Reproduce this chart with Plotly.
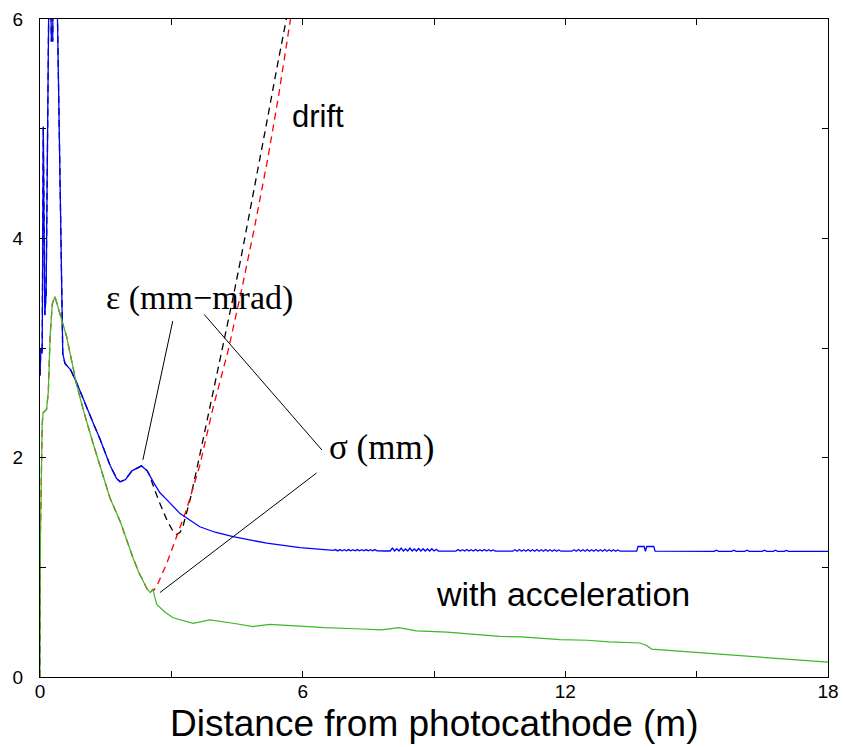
import plotly.graph_objects as go

# ---------------- data ----------------
# emittance with acceleration (blue)
blue_d = [0.0, 0.02, 0.05, 0.075, 0.11, 0.14, 0.22, 0.26, 0.29, 0.31, 0.36, 0.52, 0.57,
          0.7, 0.84, 1.0, 1.2, 1.37, 1.6, 1.75, 1.83, 1.95, 2.1, 2.32, 2.45, 2.6, 2.74, 2.9,
          3.2, 3.65, 4.0, 4.41, 5.18, 5.94, 6.3, 6.7]
blue_v = [2.75, 3.0, 2.95, 5.02, 3.3, 3.5, 7.0, 5.8, 5.8, 7.0, 7.0, 2.95, 2.86,
          2.8, 2.68, 2.52, 2.33, 2.17, 1.93, 1.81, 1.78, 1.8, 1.88, 1.925, 1.88, 1.77, 1.68,
          1.615, 1.49, 1.37, 1.32, 1.28, 1.22, 1.18, 1.165, 1.155]
# ripples and bumps of the blue curve further downstream
ripple_d = [6.75, 6.8, 6.85, 6.9, 6.95, 7.0, 7.05, 7.1, 7.15, 7.2, 7.25, 7.3, 7.35, 7.4,
            7.45, 7.5, 7.55, 7.6, 7.65, 7.7, 7.9,
            8.0, 8.05, 8.1, 8.15, 8.2, 8.25, 8.3, 8.35, 8.4, 8.45, 8.5, 8.55, 8.6, 8.65,
            8.7, 8.75, 8.8, 8.85, 8.9, 8.95, 9.0, 9.05, 9.1, 9.4,
            9.5, 9.55, 9.6, 9.65, 9.7, 9.75, 9.8, 9.85, 9.9, 9.95, 10.0, 10.05, 10.1,
            10.15, 10.2, 10.25, 10.3, 10.35, 10.4, 10.7,
            10.8, 10.85, 10.9, 10.95, 11.0, 11.05, 11.1, 11.15, 11.2, 11.25, 11.3, 11.35,
            11.4, 11.45, 11.5, 11.55, 11.6, 11.65, 11.7, 11.75, 11.8, 11.85, 11.9, 12.05,
            12.15, 12.2, 12.25, 12.3, 12.35, 12.4, 12.45, 12.5, 12.55, 12.6, 12.65, 12.7,
            12.75, 12.8, 12.85, 12.9, 12.95, 13.0, 13.05, 13.1, 13.15, 13.2, 13.25,
            13.63, 13.66, 13.8, 13.83, 13.86, 14.02, 14.05,
            15.4, 15.45, 15.5, 15.8, 15.85, 15.9, 16.1, 16.15, 16.2, 16.5, 16.55, 16.6,
            16.75, 16.8, 16.85, 17.0, 17.05, 17.1, 18.0]
ripple_v = [1.162, 1.15, 1.162, 1.15, 1.16, 1.15, 1.162, 1.15, 1.16, 1.15, 1.162, 1.15,
            1.16, 1.15, 1.162, 1.15, 1.16, 1.15, 1.162, 1.15, 1.149,
            1.149, 1.175, 1.149, 1.17, 1.149, 1.175, 1.149, 1.168, 1.149, 1.175, 1.149,
            1.168, 1.149, 1.172, 1.149, 1.17, 1.149, 1.168, 1.149, 1.17, 1.149, 1.165,
            1.149, 1.148,
            1.148, 1.162, 1.148, 1.16, 1.148, 1.162, 1.148, 1.16, 1.148, 1.162, 1.148,
            1.16, 1.148, 1.162, 1.148, 1.16, 1.148, 1.158, 1.148, 1.147,
            1.147, 1.16, 1.147, 1.162, 1.147, 1.16, 1.147, 1.162, 1.147, 1.16, 1.147,
            1.162, 1.147, 1.16, 1.147, 1.162, 1.147, 1.16, 1.147, 1.16, 1.147, 1.158,
            1.147, 1.147,
            1.147, 1.16, 1.147, 1.162, 1.147, 1.16, 1.147, 1.162, 1.147, 1.16, 1.147,
            1.162, 1.147, 1.16, 1.147, 1.162, 1.147, 1.16, 1.147, 1.16, 1.147, 1.158,
            1.147,
            1.147, 1.19, 1.19, 1.147, 1.19, 1.19, 1.147,
            1.146, 1.156, 1.146, 1.146, 1.157, 1.146, 1.146, 1.156, 1.146, 1.146, 1.157,
            1.146, 1.146, 1.156, 1.146, 1.146, 1.155, 1.146, 1.146]

# beam size with acceleration (green)
green_d = [0.0, 0.01, 0.05, 0.07, 0.15, 0.19, 0.23, 0.28, 0.34, 0.45, 0.61, 0.84, 1.0,
           1.22, 1.4, 1.6, 1.83, 2.0, 2.13, 2.25, 2.35, 2.45, 2.52, 2.58, 2.62, 2.67,
           2.86, 3.04, 3.5, 3.88, 4.41, 4.87, 5.25, 5.94, 6.5, 7.2, 7.8, 8.2, 8.6, 9.3,
           10.0, 10.5, 11.0, 11.88, 12.5, 13.0, 13.7, 13.85, 13.97, 15.0, 16.0, 17.0, 18.0]
green_v = [0.0, 1.3, 2.3, 2.41, 2.44, 2.6, 3.1, 3.4, 3.47, 3.32, 3.1, 2.66, 2.42,
           2.12, 1.88, 1.63, 1.42, 1.22, 1.08, 0.96, 0.88, 0.8, 0.77, 0.8, 0.73, 0.66,
           0.59, 0.54, 0.49, 0.52, 0.49, 0.46, 0.48, 0.46, 0.45, 0.44, 0.43, 0.45, 0.42,
           0.41, 0.39, 0.37, 0.365, 0.34, 0.335, 0.32, 0.31, 0.29, 0.255, 0.225, 0.195,
           0.165, 0.135]

# drift (no acceleration): emittance (black dashed) and beam size (red dashed)
drift_eps_d = [2.5, 2.7, 2.9, 3.05, 3.12, 3.2, 3.27, 3.43, 3.6, 3.8, 4.0, 4.2, 4.4,
               4.6, 4.8, 5.0, 5.2, 5.4, 5.63, 5.7]
drift_eps_v = [1.84, 1.62, 1.43, 1.32, 1.30, 1.32, 1.38, 1.62, 1.93, 2.3, 2.67, 3.05,
               3.44, 3.84, 4.25, 4.67, 5.1, 5.53, 6.0, 6.15]
drift_sig_d = [2.6, 2.67, 2.9, 3.12, 3.35, 3.65, 3.95, 4.3, 4.6, 4.9, 5.2, 5.45, 5.73, 5.8]
drift_sig_v = [0.79, 0.83, 1.04, 1.28, 1.53, 1.93, 2.45, 2.98, 3.52, 4.1, 4.72, 5.3,
               6.0, 6.2]

x_ticks = [0, 3, 6, 9, 12, 15, 18]
x_labels = ["0", "", "6", "", "12", "", "18"]
y_ticks = [0, 1, 2, 3, 4, 5, 6]
y_labels = ["0", "", "2", "", "4", "", "6"]

# ---------------- figure ----------------
n_eps = sum(1 for d in blue_d if d < 2.5)
n_sig = sum(1 for d in green_d if d < 2.6)
eps_drift_x = blue_d[:n_eps] + drift_eps_d
eps_drift_y = blue_v[:n_eps] + drift_eps_v
sig_drift_x = green_d[:n_sig] + drift_sig_d
sig_drift_y = green_v[:n_sig] + drift_sig_v

fig = go.Figure()
fig.add_trace(go.Scatter(x=eps_drift_x, y=eps_drift_y, mode="lines",
                         line=dict(color="black", width=1.3, dash="7px,5px")))
fig.add_trace(go.Scatter(x=sig_drift_x, y=sig_drift_y, mode="lines",
                         line=dict(color="#ff0000", width=1.3, dash="7px,5px")))
fig.add_trace(go.Scatter(x=blue_d + ripple_d, y=blue_v + ripple_v, mode="lines",
                         line=dict(color="#0000ff", width=1.3)))
fig.add_trace(go.Scatter(x=green_d, y=green_v, mode="lines",
                         line=dict(color="#3cb828", width=1.2)))

# leader lines
leaders = [((2.35, 1.98), (3.04, 3.26)),
           ((6.44, 2.07), (3.72, 3.32)),
           ((2.74, 0.77), (6.35, 1.87))]
for (x0, y0), (x1, y1) in leaders:
    fig.add_annotation(x=x0, y=y0, ax=x1, ay=y1, xref="x", yref="y", axref="x", ayref="y",
                       text="", showarrow=True, arrowhead=0, arrowwidth=1,
                       arrowcolor="black", standoff=0, startstandoff=0)

serif = "Liberation Serif, Times New Roman, serif"
sans = "Liberation Sans, Arial, Helvetica, sans-serif"
fig.add_annotation(x=3.65, y=3.46, text="ε (mm−mrad)", showarrow=False,
                   font=dict(family=serif, size=34, color="black"))
fig.add_annotation(x=7.79, y=2.09, text="σ (mm)", showarrow=False,
                   font=dict(family=serif, size=35, color="black"))
fig.add_annotation(x=6.35, y=5.11, text="drift", showarrow=False,
                   font=dict(family=sans, size=31, color="black"))
fig.add_annotation(x=11.95, y=0.76, text="with acceleration", showarrow=False,
                   font=dict(family=sans, size=34, color="black"))
fig.add_annotation(x=0.5, y=-0.07, xref="paper", yref="paper",
                   text="Distance from photocathode (m)", showarrow=False,
                   xanchor="center", yanchor="middle",
                   font=dict(family=sans, size=37, color="black"))

axis_common = dict(showgrid=False, zeroline=False, showline=True, linecolor="black",
                   linewidth=1, mirror="ticks", ticks="inside", ticklen=6,
                   tickcolor="black", tickwidth=1, automargin=False,
                   tickfont=dict(family=sans, size=19, color="black"))
fig.update_xaxes(range=[0, 18], tickmode="array", tickvals=x_ticks, ticktext=x_labels,
                 ticklabelstandoff=-3, **axis_common)
fig.update_yaxes(range=[0, 6], tickmode="array", tickvals=y_ticks, ticktext=y_labels,
                 ticklabelstandoff=12, **axis_common)

fig.update_layout(width=844, height=747, showlegend=False,
                  margin=dict(l=40, r=16, t=19, b=70),
                  paper_bgcolor="white", plot_bgcolor="white")

fig.write_html("out.html")
